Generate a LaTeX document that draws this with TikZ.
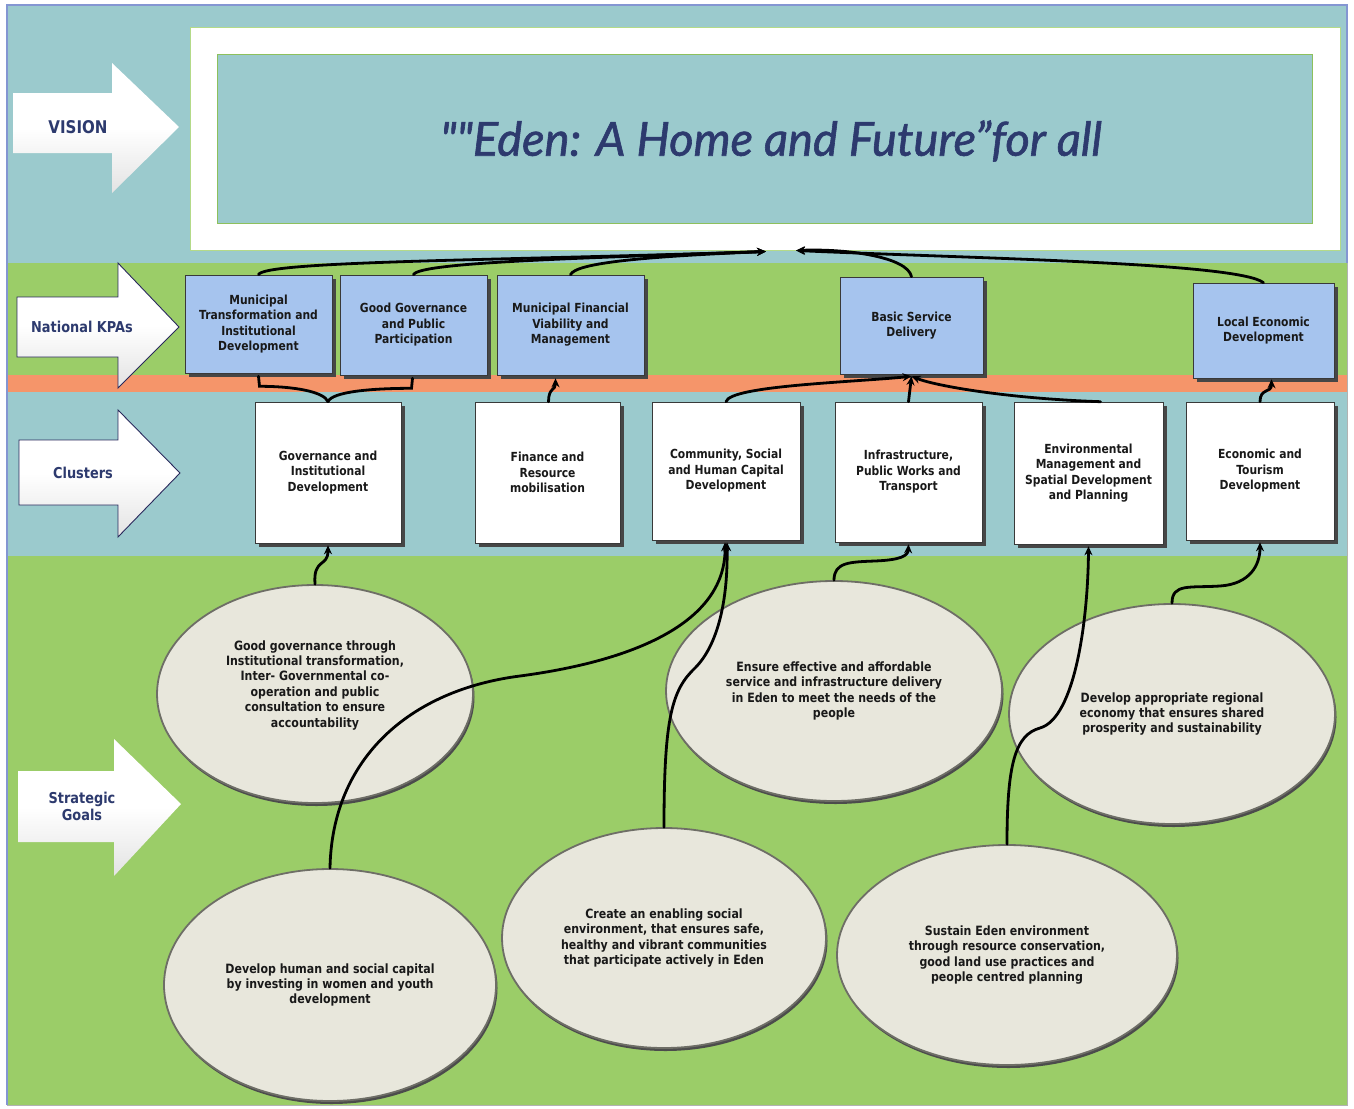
\documentclass[tikz,border=0pt]{standalone}
\usepackage{fontspec}
\setmainfont{DejaVu Sans}[FakeStretch=0.86]
\newfontfamily\mottofont{Lato}[FakeBold=1.3]
\usetikzlibrary{arrows.meta,shapes.geometric,shadows,calc}

\definecolor{bandteal}{HTML}{9BCACD}
\definecolor{bandgreen}{HTML}{9BCD68}
\definecolor{bandorange}{HTML}{F5956A}
\definecolor{kpablue}{HTML}{A6C4EE}
\definecolor{goalfill}{HTML}{E8E7DC}
\definecolor{navy}{HTML}{2D3A6E}
\definecolor{framegreen}{HTML}{B4DA88}
\definecolor{innergreen}{HTML}{8DC05C}
\definecolor{edgeblue}{HTML}{8496D2}
\definecolor{goalline}{HTML}{6E6E66}

\newcommand\boxfont{\fontsize{12.5}{15.5}\selectfont\bfseries}
\newcommand\goalfont{\fontsize{12.8}{15.4}\selectfont\bfseries}
\newcommand\sidefont{\fontsize{15}{17}\selectfont\bfseries\color{navy}}

\tikzset{
  kpa/.style={draw=gray!45!black, line width=0.6, fill=kpablue,
    drop shadow={shadow xshift=3.5pt, shadow yshift=-3.5pt, fill=gray!55!black, opacity=1},
    align=center, font=\boxfont, inner sep=2, text=black!90},
  cluster/.style={kpa, fill=white},
  goal/.style={ellipse, draw=goalline, line width=1.8, fill=goalfill,
    drop shadow={shadow xshift=1.5pt, shadow yshift=-3pt, fill=gray!60!black, opacity=1},
    align=center, font=\goalfont, inner sep=0, text=black!90},
  sidearrow/.style={top color=white, bottom color=gray!22, middle color=white},
  sideedge/.style={draw=gray!40!black!80!blue, line width=0.9},
  link/.style={line width=2.8, black, line cap=round},
  flow/.style={link, -{Stealth[length=9pt,width=8pt]}},
}

\begin{document}
\begin{tikzpicture}[x=1pt,y=-1pt]
\useasboundingbox (0,0) rectangle (1354,1108);
\fill[white] (0,0) rectangle (1354,1108);

% horizontal bands
\fill[bandteal]   (7,5)   rectangle (1347,263);
\fill[bandgreen]  (7,263) rectangle (1347,375);
\fill[bandorange] (7,375) rectangle (1347,392);
\fill[bandteal]   (7,392) rectangle (1347,556);
\fill[bandgreen]  (7,556) rectangle (1347,1105);
\draw[edgeblue, line width=1.2] (7,1105) -- (7,5) -- (1347,5) -- (1347,263);
\draw[gray!60, line width=0.6] (7,1105) -- (1347,1105) -- (1347,263);

% vision panel
\node[draw=framegreen, fill=white, line width=1, minimum width=1150, minimum height=222, inner sep=0] (visionframe) at (765,139) {};
\node[draw=innergreen, fill=bandteal, line width=1, minimum width=1095, minimum height=168, inner sep=0] (visionbox) at (764.5,139) {};
\node[text=navy, font=\mottofont\itshape\fontsize{47}{50}\selectfont] (motto) at (771,141) {""Eden: A Home and Future”for all};
\coordinate (vtip) at ($(visionframe.south)+(1,1)$);
\coordinate (vtip2) at ($(visionframe.south)+(31,0)$);

% side block arrows
\path[sidearrow] (13,93) -- (112,93) -- (112,63) -- (179,127) -- (112,193) -- (112,153) -- (13,153) -- cycle;
\node[font=\sidefont\fontsize{17.5}{19}\selectfont] (lvision) at (78,127) {VISION};
\path[sidearrow, sideedge] (17,297) -- (118,297) -- (118,263) -- (179,327) -- (118,388) -- (118,357) -- (17,357) -- cycle;
\node[font=\sidefont] (lkpa) at (82,327) {National KPAs};
\path[sidearrow, sideedge] (19,440) -- (118,440) -- (118,410) -- (180,473) -- (118,537) -- (118,505) -- (19,505) -- cycle;
\node[font=\sidefont] (lclusters) at (83,473) {Clusters};
\path[sidearrow] (18,771) -- (114,771) -- (114,739) -- (181,804) -- (114,876) -- (114,842) -- (18,842) -- cycle;
\node[font=\sidefont, align=center] (lgoals) at (82,806) {Strategic\\Goals};

% national KPAs
\node[kpa, minimum width=147, minimum height=98]  (k1) at (258.5,324)   {Municipal\\Transformation and\\Institutional\\Development};
\node[kpa, minimum width=147, minimum height=100] (k2) at (413.5,325)   {Good Governance\\and Public\\Participation};
\node[kpa, minimum width=147, minimum height=100] (k3) at (570.5,325)   {Municipal Financial\\Viability and\\Management};
\node[kpa, minimum width=143, minimum height=97]  (k4) at (911.5,325.5) {Basic Service\\Delivery};
\node[kpa, minimum width=141, minimum height=95]  (k5) at (1263.5,330.5) {Local Economic\\Development};

% clusters
\node[cluster, minimum width=146, minimum height=141] (c1) at (328,472.5)  {Governance and\\Institutional\\Development};
\node[cluster, minimum width=145, minimum height=141] (c2) at (547.5,472.5) {Finance and\\Resource\\mobilisation};
\node[cluster, minimum width=148, minimum height=138] (c3) at (726,471)    {Community, Social\\and Human Capital\\Development};
\node[cluster, minimum width=147, minimum height=140] (c4) at (908.5,472)  {Infrastructure,\\Public Works and\\Transport};
\node[cluster, minimum width=149, minimum height=142] (c5) at (1088.5,473) {Environmental\\Management and\\Spatial Development\\and Planning};
\node[cluster, minimum width=148, minimum height=138] (c6) at (1260,471)   {Economic and\\Tourism\\Development};

% strategic goals
\node[goal, minimum width=316, minimum height=218] (e1) at (315,694) {Good governance through\\Institutional transformation,\\Inter- Governmental co-\\operation and public\\consultation to ensure\\accountability\\[5pt]};
\node[goal, minimum width=332, minimum height=232] (e2) at (330,985) {Develop human and social capital\\by investing in women and youth\\development};
\node[goal, minimum width=324, minimum height=220] (e3) at (664,938) {Create an enabling social\\environment, that ensures safe,\\healthy and vibrant communities\\that participate actively in Eden};
\node[goal, minimum width=336, minimum height=220] (e4) at (834,691) {Ensure effective and affordable\\service and infrastructure delivery\\in Eden to meet the needs of the\\people};
\node[goal, minimum width=326, minimum height=220] (e5) at (1172,714) {Develop appropriate regional\\economy that ensures shared\\prosperity and sustainability};
\node[goal, minimum width=340, minimum height=220] (e6) at (1007,955) {Sustain Eden environment\\through resource conservation,\\good land use practices and\\people centred planning};

% KPAs feeding the vision
\draw[flow] (k1.north) .. controls +(5,-14) and +(-260,9) .. (vtip);
\draw[flow] (k2.north) .. controls +(5,-12) and +(-200,7) .. (vtip);
\draw[flow] (k3.north) .. controls +(5,-12) and +(-120,5) .. (vtip);
\draw[flow] (k4.north) .. controls +(-4,-20) and +(50,-2) .. (vtip2);
\draw[flow] (k5.north) .. controls +(-25,-20) and +(180,8) .. (vtip2);

% clusters feeding the KPAs
\draw[link] ($(k1.south)+(0,3)$) -- ++(1,10) .. controls +(35,0) and +(-4,-10) .. (c1.north);
\draw[link] ($(k2.south)+(-1,3)$) -- ++(-1,10) .. controls +(-40,0) and +(4,-10) .. (c1.north);
\draw[flow] ($(c2.north)+(1,0)$) .. controls +(0,-14) and +(0,12) .. ($(k3.south)+(-15,3)$);
\draw[flow] (c3.north) .. controls +(4,-16) and +(-60,6) .. ($(k4.south)+(0,2)$);
\draw[flow] (c4.north) -- ($(k4.south)+(0,2)$);
\draw[flow] ($(c5.north)+(12,0)$) .. controls +(-90,-3) and +(25,10) .. ($(k4.south)+(0,2)$);
\draw[flow] (c6.north) .. controls +(0,-14) and +(0,14) .. ($(k5.south)+(8,1)$);

% goals feeding the clusters
\draw[flow] (e1.north) .. controls +(-2,-26) and +(0,22) .. ($(c1.south)+(0,2)$);
\draw[flow] (e2.north) .. controls +(2,-110) and (410,690) .. (520,676) .. controls (640,660) and (726,620) .. ($(c3.south)+(-1,2)$);
\draw[flow] (e3.north) .. controls +(0,-110) and (672,690) .. (695,668) .. controls (718,645) and (728,600) .. ($(c3.south)+(1,2)$);
\draw[flow] (e4.north) .. controls +(0,-18) and (850,562) .. (875,561) .. controls (900,560) and (908,556) .. ($(c4.south)+(0,2)$);
\draw[flow] (e6.north) .. controls +(0,-80) and (1015,735) .. (1040,728) .. controls (1075,718) and (1088,620) .. ($(c5.south)+(0,2)$);
\draw[flow] (e5.north) .. controls +(0,-20) and (1190,588) .. (1220,586) .. controls (1250,584) and (1260,565) .. ($(c6.south)+(0,2)$);
\end{tikzpicture}
\end{document}
